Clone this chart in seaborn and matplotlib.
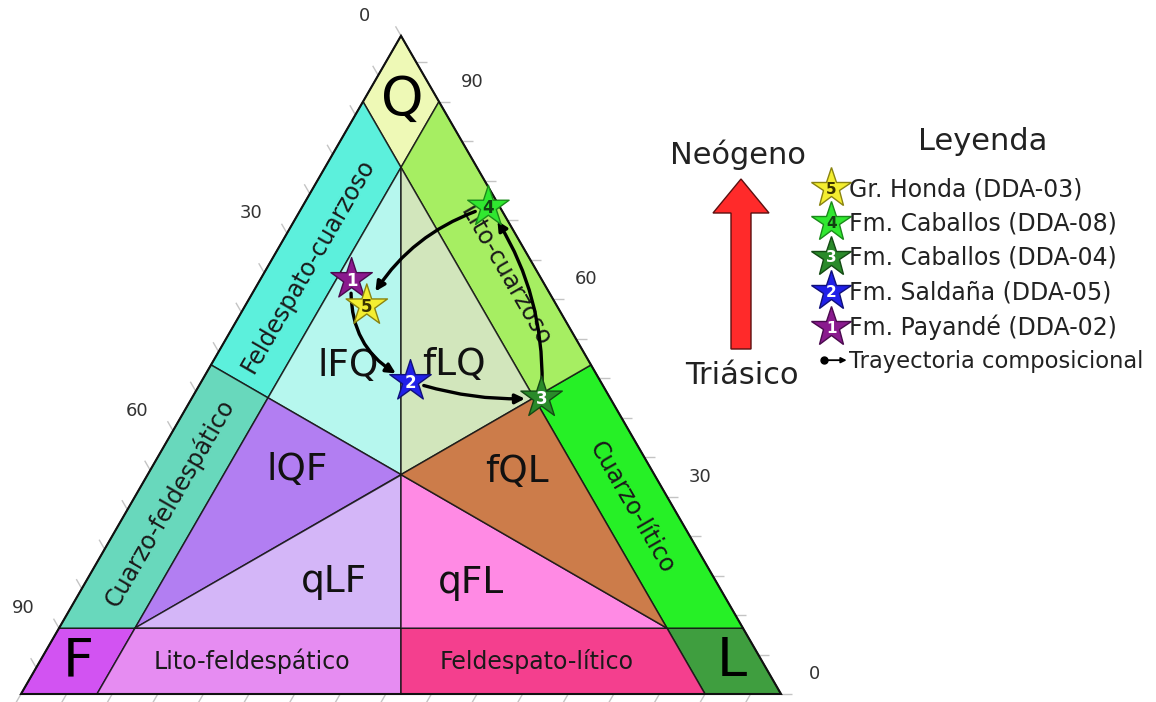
import numpy as np
import pandas as pd
import matplotlib
matplotlib.use("Agg")
import matplotlib.pyplot as plt
import seaborn as sns
from matplotlib.patches import Polygon, FancyArrow, FancyArrowPatch
from matplotlib.lines import Line2D
from matplotlib.text import Text
from matplotlib.legend_handler import HandlerBase

sns.set_style("white")
plt.rcParams["font.family"] = ["DejaVu Sans"]

# ---------------------------------------------------------------- data
# sample compositions in percent (Q, F, L), in stratigraphic order
sample_ids = ["1", "2", "3", "4", "5"]
sample_names = ["Fm. Payandé (DDA-02)", "Fm. Saldaña (DDA-05)",
                "Fm. Caballos (DDA-04)", "Fm. Caballos (DDA-08)",
                "Gr. Honda (DDA-03)"]
q_vals = [63.0, 47.5, 45.0, 74.0, 59.0]
f_vals = [25.0, 25.0, 9.0, 1.5, 25.0]
l_vals = [12.0, 27.5, 46.0, 24.5, 16.0]
star_colors = ["#8a1a8e", "#2020e8", "#2a8a2a", "#30e830", "#f4ee30"]
star_edges = ["#4a0a4e", "#10107a", "#144a14", "#1a8a1a", "#8a8410"]
number_colors = ["white", "white", "white", "#124012", "#3a3400"]
# curvature of each trajectory leg (1->2, 2->3, 3->4, 4->5)
leg_rad = [0.35, 0.10, 0.17, 0.20]

# classification fields, vertices as (Q, F, L)
C3 = 100.0 / 3
fields = {
    "Q":   [(100, 0, 0), (90, 10, 0), (80, 10, 10), (90, 0, 10)],
    "F":   [(0, 100, 0), (10, 90, 0), (10, 80, 10), (0, 90, 10)],
    "L":   [(0, 0, 100), (10, 0, 90), (10, 10, 80), (0, 10, 90)],
    "Feldespato-cuarzoso": [(90, 10, 0), (50, 50, 0), (45, 45, 10), (80, 10, 10)],
    "Cuarzo-feldespático": [(50, 50, 0), (10, 90, 0), (10, 80, 10), (45, 45, 10)],
    "Lito-feldespático":   [(0, 90, 10), (10, 80, 10), (10, 45, 45), (0, 50, 50)],
    "Feldespato-lítico":   [(0, 50, 50), (10, 45, 45), (10, 10, 80), (0, 10, 90)],
    "Cuarzo-lítico":       [(10, 0, 90), (50, 0, 50), (45, 10, 45), (10, 10, 80)],
    "Lito-cuarzoso":       [(50, 0, 50), (90, 0, 10), (80, 10, 10), (45, 10, 45)],
    "lFQ": [(80, 10, 10), (45, 45, 10), (C3, C3, C3)],
    "fLQ": [(80, 10, 10), (C3, C3, C3), (45, 10, 45)],
    "lQF": [(45, 45, 10), (10, 80, 10), (C3, C3, C3)],
    "qLF": [(10, 80, 10), (10, 45, 45), (C3, C3, C3)],
    "qFL": [(10, 45, 45), (10, 10, 80), (C3, C3, C3)],
    "fQL": [(10, 10, 80), (45, 10, 45), (C3, C3, C3)],
}
field_colors = {
    "Q": "#eef9b6", "F": "#d253f2", "L": "#3f9e3f",
    "Feldespato-cuarzoso": "#5cf0dc", "Cuarzo-feldespático": "#68d8bc",
    "Lito-feldespático": "#e68cf2", "Feldespato-lítico": "#f43f8e",
    "Cuarzo-lítico": "#26f026", "Lito-cuarzoso": "#a6ee62",
    "lFQ": "#b6f7ee", "fLQ": "#d2e6bc", "lQF": "#b27ef2",
    "qLF": "#d4b6f8", "qFL": "#ff8ae4", "fQL": "#cc7c4a",
}

# label anchors (Q, L) for field names
big_labels = [("Q", 90.2, 5.0), ("F", 5.0, 5.0), ("L", 5.0, 91.0)]
code_labels = [("lFQ", 49.8, 18.1), ("fLQ", 50.0, 32.0), ("lQF", 34.0, 19.3),
               ("fQL", 33.8, 48.4), ("qLF", 17.0, 32.7), ("qFL", 16.9, 50.8)]
band_labels = [("Feldespato-cuarzoso", 65.0, 5.2, 60),
               ("Cuarzo-feldespático", 29.0, 5.0, 60),
               ("Lito-cuarzoso", 63.5, 32.0, -60),
               ("Cuarzo-lítico", 28.3, 66.2, -60),
               ("Lito-feldespático", 5.0, 27.9, 0),
               ("Feldespato-lítico", 5.0, 65.4, 0)]

tick_step = 6
left_tick_labels = [0, 30, 60, 90]    # F along the left side
right_tick_labels = [90, 60, 30, 0]   # Q along the right side

SQ3 = np.sqrt(3) / 2


def tern(q, f, l):
    s = q + f + l
    q, l = q / s, l / s
    return l + q / 2, q * SQ3


# figure in pixel-scaled data units (side of the triangle = 1)
W, H = 1156, 702
PX = 760.0
X0, Y0 = 21, 694


def px(x, y):
    return (x - X0) / PX, (Y0 - y) / PX


fig = plt.figure(figsize=(W / 100, H / 100), dpi=100)
ax = fig.add_axes([0, 0, 1, 1])
ax.set_xlim(-X0 / PX, (W - X0) / PX)
ax.set_ylim((Y0 - H) / PX, Y0 / PX)
ax.axis("off")

# ---------------------------------------------------------------- fields
for name, verts in fields.items():
    xy = [tern(*v) for v in verts]
    ax.add_patch(Polygon(xy, closed=True, facecolor=field_colors[name],
                         edgecolor=(0.08, 0.08, 0.08, 0.85), lw=1.1, zorder=1))

outline = [tern(100, 0, 0), tern(0, 100, 0), tern(0, 0, 100)]
ax.add_patch(Polygon(outline, closed=True, fill=False, edgecolor="#111111",
                     lw=1.5, zorder=2))

# ---------------------------------------------------------------- ticks
tl = 11 / PX
tick_kw = dict(color="#c4c4c4", lw=1.0, zorder=0.5, solid_capstyle="butt")
for v in np.arange(0, 100, tick_step):
    x, y = tern(100 - v, v, 0)          # left side (F)
    ax.plot([x, x - 0.5 * tl], [y, y + SQ3 * tl], **tick_kw)
    x, y = tern(v, 0, 100 - v)          # right side (Q)
    ax.plot([x, x + tl], [y, y], **tick_kw)
    x, y = tern(0, 100 - v, v)          # base (L)
    ax.plot([x, x - 0.5 * tl], [y, y - SQ3 * tl], **tick_kw)

lab_kw = dict(fontsize=13, color="#333333", ha="center", va="center")
for v in left_tick_labels:
    x, y = tern(100 - v, v, 0)
    ax.text(x - 36 / PX, y + 20 / PX, str(v), **lab_kw)
for v in right_tick_labels:
    x, y = tern(v, 0, 100 - v)
    ax.text(x + 33 / PX, y + 20 / PX, str(v), **lab_kw)

# ---------------------------------------------------------------- labels
for txt, q, l in big_labels:
    x, y = tern(q, 100 - q - l, l)
    ax.text(x, y, txt, fontsize=39, ha="center", va="center", color="black",
            zorder=3)
for txt, q, l in code_labels:
    x, y = tern(q, 100 - q - l, l)
    ax.text(x, y, txt, fontsize=27, ha="center", va="center", color="#111111",
            zorder=3)
for txt, q, l, rot in band_labels:
    x, y = tern(q, 100 - q - l, l)
    ax.text(x, y, txt, fontsize=17, ha="center", va="center", rotation=rot,
            rotation_mode="anchor", color="#1a1a1a", zorder=3)

# ---------------------------------------------------------------- samples
pts = [tern(q, f, l) for q, f, l in zip(q_vals, f_vals, l_vals)]
df = pd.DataFrame({"x": [p[0] for p in pts], "y": [p[1] for p in pts],
                   "muestra": sample_names})

for i in range(len(pts) - 1):
    ax.annotate("", xy=pts[i + 1], xytext=pts[i],
                arrowprops=dict(arrowstyle="-|>", color="black", lw=2.4,
                                mutation_scale=14, shrinkA=10, shrinkB=12,
                                connectionstyle=f"arc3,rad={leg_rad[i]}"),
                zorder=4)

sns.scatterplot(data=df, x="x", y="y", hue="muestra",
                palette=dict(zip(sample_names, star_colors)),
                marker="*", s=980, edgecolor=star_edges, linewidth=1.0,
                legend=False, ax=ax, zorder=5)
for (x, y), sid, nc in zip(pts, sample_ids, number_colors):
    ax.text(x, y - 1.5 / PX, sid, fontsize=12, fontweight="bold", color=nc,
            ha="center", va="center", zorder=6)

# ---------------------------------------------------------------- age arrow
bx, by = px(741, 349)
tx, ty = px(741, 179)
ax.add_patch(FancyArrow(bx, by, 0, ty - by, width=20 / PX, head_width=56 / PX,
                        head_length=34 / PX, length_includes_head=True,
                        facecolor="#ff2a2a", edgecolor="#5a1010", lw=1.0))
ax.text(*px(738, 155), "Neógeno", fontsize=22, ha="center", va="center",
        color="#222222")
ax.text(*px(742, 376), "Triásico", fontsize=22, ha="center", va="center",
        color="#222222")


# ---------------------------------------------------------------- legend
class StarKey:
    def __init__(self, color, edge, num, numcolor):
        self.color, self.edge = color, edge
        self.num, self.numcolor = num, numcolor


class PathKey:
    pass


class StarHandler(HandlerBase):
    def create_artists(self, legend, orig, xdescent, ydescent, width, height,
                       fontsize, trans):
        cx = 0.5 * width - xdescent
        cy = 0.5 * height - ydescent
        star = Line2D([cx], [cy], marker="*", markersize=30, linestyle="none",
                      markerfacecolor=orig.color, markeredgecolor=orig.edge,
                      markeredgewidth=1.0, transform=trans)
        num = Text(cx, cy - 1, orig.num, ha="center", va="center", fontsize=11,
                   fontweight="bold", color=orig.numcolor, transform=trans)
        return [star, num]


class PathHandler(HandlerBase):
    def create_artists(self, legend, orig, xdescent, ydescent, width, height,
                       fontsize, trans):
        cy = 0.5 * height - ydescent
        x0 = -xdescent + 6
        x1 = width - xdescent
        dot = Line2D([x0], [cy], marker="o", markersize=5, color="black",
                     linestyle="none", transform=trans)
        arr = FancyArrowPatch((x0, cy), (x1, cy), arrowstyle="-|>",
                              mutation_scale=8, color="black", lw=1.3,
                              shrinkA=0, shrinkB=0, transform=trans)
        return [dot, arr]


order = [4, 3, 2, 1, 0]
handles = [StarKey(star_colors[i], star_edges[i], sample_ids[i],
                   number_colors[i]) for i in order]
labels = [sample_names[i] for i in order]
handles.append(PathKey())
labels.append("Trayectoria composicional")

fig.text(983 / W, 1 - 142 / H, "Leyenda", fontsize=22, ha="center",
         va="center", color="#222222")
leg = ax.legend(handles, labels, handler_map={StarKey: StarHandler(),
                                              PathKey: PathHandler()},
                loc="upper left", bbox_to_anchor=(816 / W, 1 - 177 / H),
                bbox_transform=fig.transFigure, frameon=False, fontsize=17,
                handlelength=1.3, handletextpad=0.1, labelspacing=0.44,
                borderpad=0, borderaxespad=0, labelcolor="#222222")
leg.get_texts()[-1].set_fontsize(16.3)

fig.savefig("out.png", dpi=100)
